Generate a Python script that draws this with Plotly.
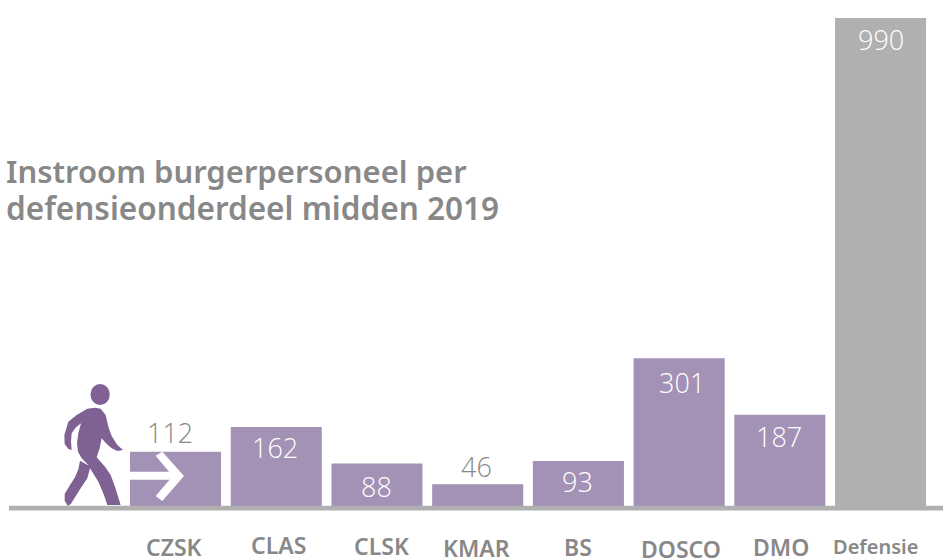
import plotly.graph_objects as go

W, H = 943, 558

categories = ["CZSK", "CLAS", "CLSK", "KMAR", "BS", "DOSCO", "DMO", "Defensie"]
values = [112, 162, 88, 46, 93, 301, 187, 990]
title_lines = ["Instroom burgerpersoneel per", "defensieonderdeel midden 2019"]

PURPLE = "#a491b6"
DARK = "#7f6293"
GREY = "#b0b0b0"
TEXT = "#888888"

colors = [GREY if c == "Defensie" else PURPLE for c in categories]


def px(x, y):
    return f"{x / W:.5f},{1 - y / H:.5f}"


def zoom_path(pts):
    """Outline given in reference-crop pixels (3x, origin 0,370)."""
    return "M" + " L".join(px(x / 3, 370 + y / 3) for x, y in pts) + " Z"


fig = go.Figure(go.Bar(
    x=categories, y=values, marker=dict(color=colors, line=dict(width=0)),
    width=0.904, hoverinfo="skip",
))

walker_body = [
    (262, 116), (285, 113), (302, 116), (317, 135), (325, 170), (335, 198), (352, 225), (369, 240),
    (352, 243), (335, 235), (318, 220), (305, 205), (299, 235), (290, 262), (315, 290), (332, 315),
    (345, 350), (362, 405), (322, 405), (312, 375), (295, 335), (270, 295), (262, 325), (240, 358),
    (212, 403), (203, 407), (194, 392), (194, 372), (210, 345), (225, 322), (235, 298), (240, 272),
    (267, 287), (245, 265), (234, 245), (231, 220), (235, 190), (243, 160), (228, 172), (215, 190),
    (213, 215), (215, 240), (205, 237), (194, 222), (193, 195), (205, 155), (230, 135),
]
head = dict(type="circle", xref="paper", yref="paper", x0=90.5 / W, x1=109.8 / W,
            y0=1 - 405 / H, y1=1 - 384 / H, fillcolor=DARK, line_width=0, layer="above")
arrow_head = [(467, 257), (487, 245), (552, 318), (487, 393), (467, 378), (518, 318)]
arrow_shaft = [(390, 305), (530, 305), (530, 329), (390, 329)]

shapes = [
    dict(type="rect", xref="paper", yref="paper", x0=9 / W, x1=1, y0=1 - 510.5 / H, y1=1 - 505.8 / H,
         fillcolor=GREY, line_width=0, layer="above"),
    dict(type="path", xref="paper", yref="paper", path=zoom_path(walker_body), fillcolor=DARK, line_width=0, layer="above"),
    head,
    dict(type="path", xref="paper", yref="paper", path=zoom_path(arrow_head), fillcolor="white", line_width=0, layer="above"),
    dict(type="path", xref="paper", yref="paper", path=zoom_path(arrow_shaft), fillcolor="white", line_width=0, layer="above"),
]

annotations = []
outside = {"CZSK", "KMAR"}
# label placement (pixel nudges), as hand-set in the reference
label_y = {"CZSK": 547, "CLAS": 545, "CLSK": 546, "KMAR": 548, "BS": 547, "DOSCO": 549, "DMO": 547, "Defensie": 546}
label_dx = {"CZSK": -1.5, "CLAS": 2.5, "CLSK": 4.5, "KMAR": -1, "BS": 0, "DOSCO": 1.5, "DMO": 1.5, "Defensie": -5}
value_dx = {"CZSK": -5.5, "CLAS": -1.5, "CLSK": 0, "KMAR": -1, "BS": -0.5, "DOSCO": 2.5, "DMO": -0.5, "Defensie": 0}
value_dy = {"CZSK": 0, "CLAS": 1, "CLSK": -1, "KMAR": -1, "BS": 2, "DOSCO": -2, "DMO": 0, "Defensie": 0}
for c, v in zip(categories, values):
    is_out = c in outside
    annotations.append(dict(
        x=c, y=v, xref="x", yref="y", text=str(v), showarrow=False,
        xshift=value_dx[c], yshift=(19 if is_out else -22) + value_dy[c], yanchor="middle",
        font=dict(family="Open Sans", size=27, weight=300, color=TEXT if is_out else "white"),
    ))
    annotations.append(dict(
        x=c, y=1 - label_y[c] / H, xref="x", yref="paper", text=c, showarrow=False, yanchor="middle",
        xshift=label_dx[c],
        font=dict(family="Noto Sans", size=20 if c == "Defensie" else 23, weight=600, color=TEXT),
    ))

for line, ypx, size in zip(title_lines, (171, 208), (31, 31.5)):
    annotations.append(dict(
        x=3.5 / W, y=1 - ypx / H, xref="paper", yref="paper", text=line, showarrow=False,
        xanchor="left", yanchor="middle", align="left",
        font=dict(family="Noto Sans", size=size, weight=600, color=TEXT),
    ))

fig.update_layout(
    width=W, height=H, margin=dict(l=0, r=0, t=0, b=0, autoexpand=False),
    paper_bgcolor="white", plot_bgcolor="rgba(0,0,0,0)", showlegend=False,
    xaxis=dict(type="category", range=[-1.743, 7.62], visible=False, fixedrange=True),
    yaxis=dict(range=[-103.25, 1026.4], visible=False, fixedrange=True),
    shapes=shapes, annotations=annotations,
)
fig.write_html("out.html", config=dict(displayModeBar=False),
               post_script="document.body.style.margin='0';document.body.style.overflow='hidden';")
